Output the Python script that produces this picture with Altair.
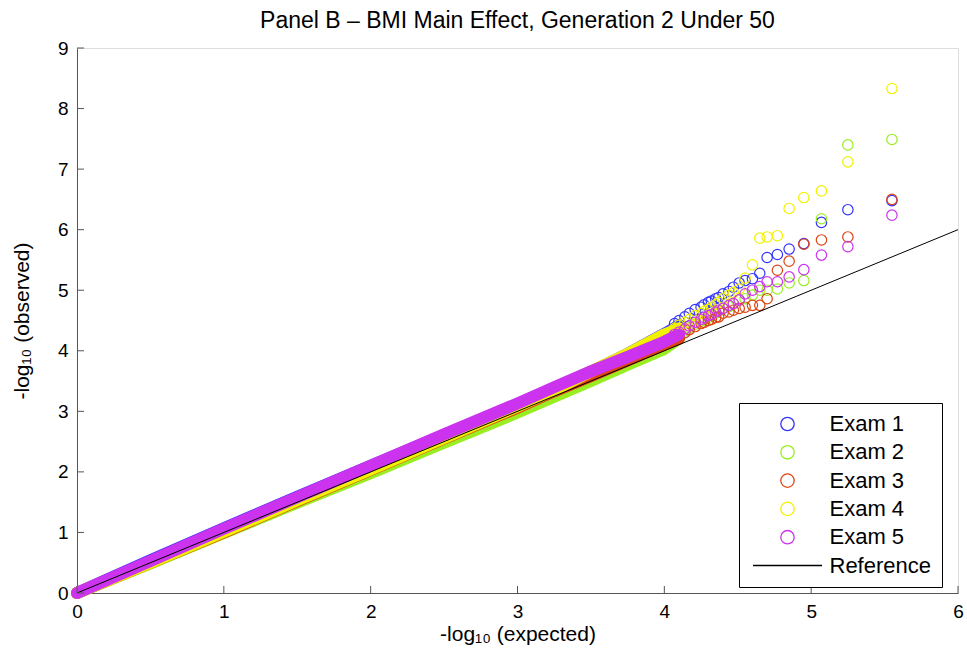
import altair as alt
import pandas as pd

# ---------------- data ----------------
series = ["Exam 1", "Exam 2", "Exam 3", "Exam 4", "Exam 5"]
colors = ["#3333ff", "#99ee22", "#dd4411", "#f2f200", "#cc33ee"]

# dense part of the QQ curves (expected -> observed)
band_x = [0.0, 0.5, 1.0, 1.5, 2.0, 2.5, 3.0, 3.25, 3.5, 3.75, 4.0, 4.1]
band_exam1 = [0.0, 0.54, 1.07, 1.59, 2.10, 2.61, 3.12, 3.38, 3.65, 3.95, 4.28, 4.42]
band_exam2 = [0.0, 0.49, 0.99, 1.49, 1.98, 2.48, 2.98, 3.24, 3.50, 3.77, 4.03, 4.20]
band_exam3 = [0.0, 0.50, 1.00, 1.52, 2.03, 2.55, 3.06, 3.33, 3.58, 3.84, 4.10, 4.20]
band_exam4 = [0.0, 0.50, 1.01, 1.53, 2.04, 2.56, 3.08, 3.35, 3.66, 3.95, 4.27, 4.37]
band_exam5 = [0.0, 0.53, 1.06, 1.58, 2.10, 2.62, 3.13, 3.40, 3.66, 3.90, 4.15, 4.27]

# top-ranked individual points
tail_x = [5.55, 5.25, 5.07, 4.95, 4.85, 4.77, 4.70, 4.65, 4.60, 4.55,
          4.51, 4.47, 4.44, 4.40, 4.37, 4.35, 4.32, 4.30, 4.27, 4.25,
          4.21, 4.17, 4.14, 4.10, 4.07]
tail_exam1 = [6.48, 6.33, 6.12, 5.77, 5.68, 5.59, 5.54, 5.28, 5.19, 5.16,
              5.12, 5.05, 4.98, 4.94, 4.88, 4.86, 4.82, 4.80, 4.76, 4.72,
              4.68, 4.62, 4.56, 4.50, 4.45]
tail_exam2 = [7.49, 7.40, 6.18, 5.16, 5.12, 5.02, 5.00, 5.00, 4.92, 4.86,
              4.84, 4.78, 4.73, 4.70, 4.65, 4.62, 4.58, 4.55, 4.52, 4.49,
              4.44, 4.38, 4.33, 4.27, 4.22]
tail_exam3 = [6.50, 5.88, 5.83, 5.76, 5.48, 5.33, 4.86, 4.75, 4.75, 4.72,
              4.70, 4.67, 4.64, 4.62, 4.56, 4.55, 4.52, 4.50, 4.47, 4.45,
              4.40, 4.35, 4.30, 4.25, 4.20]
tail_exam4 = [8.33, 7.12, 6.64, 6.53, 6.35, 5.90, 5.88, 5.86, 5.42, 5.20,
              5.02, 4.96, 4.92, 4.86, 4.80, 4.76, 4.72, 4.68, 4.65, 4.62,
              4.58, 4.52, 4.47, 4.42, 4.37]
tail_exam5 = [6.24, 5.72, 5.58, 5.34, 5.22, 5.14, 5.14, 5.06, 5.00, 4.94,
              4.84, 4.78, 4.75, 4.70, 4.67, 4.64, 4.60, 4.58, 4.55, 4.52,
              4.47, 4.41, 4.36, 4.31, 4.27]

ref_x = [0, 6]
ref_y = [0, 6]

x_ticks = [0, 1, 2, 3, 4, 5, 6]
y_ticks = [0, 1, 2, 3, 4, 5, 6, 7, 8, 9]

bands = [band_exam1, band_exam2, band_exam3, band_exam4, band_exam5]
tails = [tail_exam1, tail_exam2, tail_exam3, tail_exam4, tail_exam5]

# ---------------- styling ----------------
FONT = "Liberation Sans"
W, H = 881, 545
AX = "#555555"

circle_path = "M-0.67,0A0.67,0.67,0,1,0,0.67,0A0.67,0.67,0,1,0,-0.67,0Z"
line_path = "M-3.45,0L3.45,0"
legend_domain = series + ["Reference"]

xenc = alt.X("x:Q", scale=alt.Scale(domain=[0, 6], nice=False, zero=False),
             axis=alt.Axis(values=x_ticks, ticks=False, grid=False, domainColor=AX,
                           labelFontSize=19, labelFont=FONT, labelColor="black",
                           labelPadding=9, labelFlush=False,
                           title="-log\u2081\u2080 (expected)", titleFontSize=21,
                           titleFont=FONT, titleFontWeight="normal", titleColor="black",
                           titlePadding=2))
yenc = alt.Y("y:Q", scale=alt.Scale(domain=[0, 9], nice=False, zero=False),
             axis=alt.Axis(values=y_ticks, ticks=False, grid=False, domainColor=AX,
                           labelFontSize=19, labelFont=FONT, labelColor="black",
                           labelPadding=9, labelFlush=False,
                           title="-log\u2081\u2080 (observed)", titleFontSize=21,
                           titleFont=FONT, titleFontWeight="normal", titleColor="black",
                           titlePadding=25))

legend = alt.Legend(title=None, orient="none", legendX=662, legendY=355,
                    fillColor="white", strokeColor="black", padding=10,
                    cornerRadius=0, labelFontSize=22, labelFont=FONT,
                    labelColor="black", labelOffset=31, symbolOffset=27.5,
                    symbolSize=400, symbolStrokeWidth=1.3, rowPadding=6.3,
                    symbolOpacity=1)
color_enc = alt.Color("series:N", scale=alt.Scale(domain=legend_domain,
                                                  range=colors + ["black"]),
                      legend=legend)
shape_enc = alt.Shape("series:N", scale=alt.Scale(domain=legend_domain,
                                                  range=[circle_path] * 5 + [line_path]),
                      legend=legend)

layers = []
for i, s in enumerate(series):
    bdf = pd.DataFrame({"x": band_x, "y": bands[i]})
    layers.append(
        alt.Chart(bdf).mark_line(color=colors[i], strokeWidth=12, strokeCap="round",
                                 strokeJoin="round").encode(x=xenc, y=yenc)
    )
    tdf = pd.DataFrame({"x": tail_x, "y": tails[i], "series": s})
    layers.append(
        alt.Chart(tdf).mark_point(filled=False, size=241, strokeWidth=1.2, opacity=1)
        .encode(x=xenc, y=yenc, color=color_enc, shape=shape_enc)
    )

rdf = pd.DataFrame({"x": ref_x, "y": ref_y})
layers.append(alt.Chart(rdf).mark_line(color="black", strokeWidth=1).encode(x=xenc, y=yenc))

# inward tick marks (MATLAB style)
xt = alt.Chart(pd.DataFrame({"x": x_ticks})).mark_rule(color=AX, strokeWidth=1).encode(
    x=xenc, y=alt.value(H), y2=alt.value(H - 7))
yt = alt.Chart(pd.DataFrame({"y": y_ticks})).mark_rule(color=AX, strokeWidth=1).encode(
    y=yenc, x=alt.value(0), x2=alt.value(7))
layers += [xt, yt]

chart = alt.layer(*layers).properties(
    width=W, height=H,
    padding={"left": 77, "top": 48, "right": 9, "bottom": 69},
    autosize=alt.AutoSizeParams(type="none"),
    title=alt.TitleParams("Panel B \u2013 BMI Main Effect, Generation 2 Under 50",
                          fontSize=23, font=FONT, fontWeight="normal", color="black",
                          anchor="middle", frame="group", offset=6),
).configure_view(stroke=None).configure(background="white")

chart.save("out.html", embed_options={"renderer": "svg", "actions": False})
